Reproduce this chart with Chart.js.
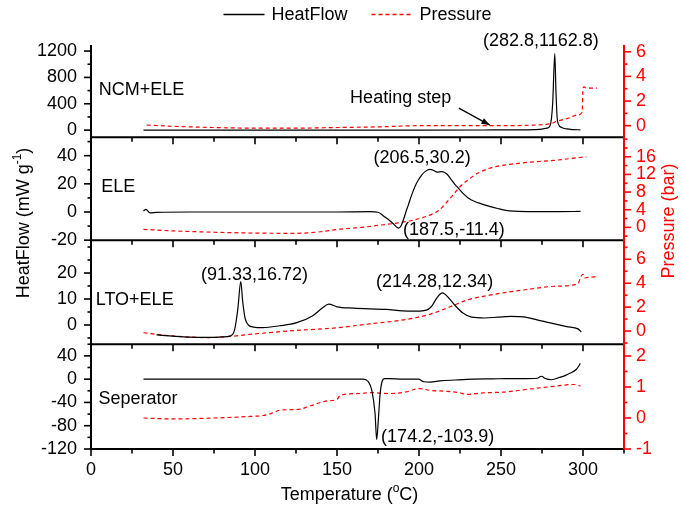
<!DOCTYPE html>
<html>
<head>
<meta charset="utf-8">
<script src="https://cdn.jsdelivr.net/npm/chart.js@4.4.0/dist/chart.umd.min.js"></script>
<style>
  html, body { margin: 0; padding: 0; background: #fff; }
</style>
</head>
<body>
<canvas id="myChart" width="681" height="510"></canvas>
<script>
// ---- values ----
const xTickLabels = [0, 50, 100, 150, 200, 250, 300];

// NCM+ELE
const ncmHeatT = [32, 60, 100, 150, 200, 240, 260, 270, 275, 278, 280, 281.5, 282.8, 283.5, 284.2, 285, 287, 290, 294, 298.4];
const ncmHeat  = [0, 0, 0, 0, 0, 2, 4, 8, 15, 30, 70, 400, 1162.8, 600, 200, 90, 40, 18, 8, 5];
const ncmPresT = [34, 50, 75, 100, 125, 150, 175, 200, 225, 250, 270, 280, 284, 288, 292, 296, 299.5, 300, 300.6, 302, 305, 308.5];
const ncmPres  = [0.05, -0.05, -0.15, -0.2, -0.2, -0.15, -0.1, 0, 0, 0, 0.05, 0.15, 0.35, 0.5, 0.65, 0.85, 1.1, 3.0, 3.15, 3.05, 3.05, 3.05];

// ELE
const eleHeatT = [32, 33.5, 36, 40, 60, 100, 150, 170, 175, 178, 181, 184.5, 187.5, 189, 190.5, 192, 193.5, 195.5, 197.5, 199.5, 201.5, 203.5, 206.5, 209, 211, 214, 217, 219, 222, 224, 227, 230, 234, 238, 243, 248, 253, 258, 270, 285, 298.5];
const eleHeat  = [0.8, 1.8, -0.7, -0.3, 0, 0, 0, 0.2, -0.2, -2.5, -5, -8.5, -11.4, -10, -5.5, 0, 5, 12, 18, 22.5, 26, 28.5, 30.2, 29.5, 28.3, 28.7, 27, 24, 19.5, 17, 13, 10, 7.5, 5.8, 4, 2.5, 1.2, 0.6, 0.3, 0.3, 0.4];
const elePresT = [32, 50, 75, 100, 125, 140, 152, 165, 175, 185, 195, 202, 208, 212, 216, 220, 225, 230, 236, 243, 250, 258, 268, 280, 290, 302];
const elePres  = [-0.45, -0.8, -1.1, -1.3, -1.35, -1.0, -0.4, 0, 0.45, 0.9, 1.5, 2.2, 3.0, 3.8, 5.3, 7.0, 9.2, 10.8, 12.3, 13.4, 14.0, 14.4, 14.8, 15.1, 15.5, 16.0];

// LTO+ELE
const ltoHeatT = [40, 50, 60, 70, 80, 85, 87.5, 89.5, 91.33, 92.5, 94, 96, 99, 105, 115, 125, 135, 141, 145, 150, 160, 170, 180, 190, 198, 205, 208, 211, 214.28, 218, 222, 227, 232, 240, 248, 256, 264, 272, 280, 290, 297, 299];
const ltoHeat  = [-3.8, -4.3, -4.7, -4.8, -4.6, -4.2, -2, 6, 16.72, 9, 2.5, 0, -0.8, -1.0, -0.3, 0.8, 3.5, 6.5, 8.0, 7.0, 6.5, 6.2, 6.0, 5.4, 5.3, 5.8, 7.5, 10.5, 12.34, 10.5, 7.5, 4.5, 3.0, 2.7, 3.0, 3.3, 3.1, 2.0, 0.8, -0.6, -1.5, -2.7];
const ltoPresT = [32, 45, 60, 70, 85, 95, 107, 125, 148, 170, 192, 207, 219, 229, 243, 263, 284, 297, 298.5, 300, 301, 304, 308];
const ltoPres  = [-0.14, -0.35, -0.5, -0.55, -0.45, -0.3, -0.15, 0.05, 0.25, 0.6, 0.97, 1.42, 2.03, 2.58, 3.0, 3.42, 3.75, 3.97, 4.5, 4.75, 4.45, 4.5, 4.55];

// Seperator
const sepHeatT = [32, 60, 100, 140, 166, 169, 171.2, 173.2, 174.2, 175.2, 176.3, 177.5, 179, 182, 190, 199.6, 203, 207, 212.8, 222, 233, 245, 253.4, 265, 272, 274.7, 277, 280.8, 285.8, 289, 292, 296, 298.4];
const sepHeat  = [0, 0, 0, 0, 0, -4, -19, -59, -103.9, -70, -25, -4, 1, 1, 0, 0, -4.5, -5, -3, -1.5, 0, 0.5, 1, 1, 1.5, 5, 1, -1, 3, 6, 10, 17, 27];
const sepPresT = [32, 50, 75, 97, 105, 110, 115, 122, 128, 132, 136, 140, 144, 150, 152, 164, 170, 182, 192, 200, 207, 217, 225, 229, 239, 253, 265, 282, 294, 298.5];
const sepPres  = [0, -0.03, 0, 0.05, 0.08, 0.15, 0.25, 0.27, 0.29, 0.36, 0.43, 0.5, 0.55, 0.6, 0.73, 0.79, 0.82, 0.79, 0.84, 0.95, 0.89, 0.86, 0.81, 0.76, 0.81, 0.84, 0.92, 1.02, 1.08, 1.03];

const leftTickLabels  = [[0, 400, 800, 1200], [-20, 0, 20, 40], [0, 10, 20], [-120, -80, -40, 0, 40]];
const rightTickLabels = [[0, 2, 4, 6], [0, 4, 8, 12, 16], [0, 2, 4, 6], [-1, 0, 1, 2]];
const panelNames = ['NCM+ELE', 'ELE', 'LTO+ELE', 'Seperator'];
const peakLabels = [['(282.8,1162.8)'], ['(206.5,30.2)', '(187.5,-11.4)'], ['(91.33,16.72)', '(214.28,12.34)'], ['(174.2,-103.9)']];

// ---- layout / style ----
const FONT = '"Liberation Sans", Arial, Helvetica, sans-serif';
const RED = '#ff0000';
Chart.defaults.font.family = FONT;
Chart.defaults.font.size = 18;
Chart.defaults.color = '#000';

const panels = [
  {heatT: ncmHeatT, heat: ncmHeat, presT: ncmPresT, pres: ncmPres, left: [-110, 1292, 200], right: [-0.95, 6.55, 1], weight: 92.3},
  {heatT: eleHeatT, heat: eleHeat, presT: elePresT, pres: elePres, left: [-20, 53, 10], right: [-2.9, 20.4, 2], weight: 102.7},
  {heatT: ltoHeatT, heat: ltoHeat, presT: ltoPresT, pres: ltoPres, left: [-7.4, 32.65, 5], right: [-1.1, 7.6, 1], weight: 104},
  {heatT: sepHeatT, heat: sepHeat, presT: sepPresT, pres: sepPres, left: [-120, 60, 20], right: [-1, 2.38, 0.5], weight: 104.7},
];

// where the panel texts sit, in each panel's temperature / heat-flow units
const notePos = [
  [{x: 4.7, y: 615, align: 'left'}, {x: 274.3, y: 1352, align: 'center'}],
  [{x: 6.3, y: 17.6, align: 'left'}, {x: 201.9, y: 38.2, align: 'center'}, {x: 190.3, y: -12.8, align: 'left'}],
  [{x: 2.9, y: 9.5, align: 'left'}, {x: 99.7, y: 19.4, align: 'center'}, {x: 209.5, y: 16.5, align: 'center'}],
  [{x: 4.5, y: -34.9, align: 'left'}, {x: 176.9, y: -100.2, align: 'left'}],
];

function pts(xs, ys) { return xs.map((x, i) => ({x: x, y: ys[i]})); }

// evenly spaced ticks inside [min, max] for a given step
function stepTicks(scale, step) {
  const out = [];
  for (let v = Math.ceil(scale.min / step - 1e-9) * step; v <= scale.max + 1e-9; v += step) {
    out.push({value: Math.round(v * 1000) / 1000});
  }
  scale.ticks = out;
}

const datasets = [];
panels.forEach((p, i) => {
  datasets.push({
    label: 'HeatFlow', data: pts(p.heatT, p.heat), yAxisID: 'yL' + i,
    borderColor: '#000', borderWidth: 1.2, pointRadius: 0, cubicInterpolationMode: 'monotone'
  });
  datasets.push({
    label: 'Pressure', data: pts(p.presT, p.pres), yAxisID: 'yR' + i,
    borderColor: RED, borderWidth: 1.2, borderDash: [4, 3], pointRadius: 0, cubicInterpolationMode: 'monotone'
  });
});

const hiddenTicks = {drawOnChartArea: false, drawTicks: true, tickLength: 7, tickColor: 'transparent'};

const scales = {
  x: {
    type: 'linear', position: 'bottom', min: 0, max: 325,
    ticks: {stepSize: 25, autoSkip: false, maxRotation: 0, padding: 3,
      callback: v => xTickLabels.includes(v) ? String(v) : ''},
    grid: hiddenTicks, border: {display: false},
    afterFit: s => { s.height = 61; }
  }
};
panels.forEach((p, i) => {
  scales['yL' + i] = {
    type: 'linear', position: 'left', stack: 'left', stackWeight: p.weight, weight: 4 - i,
    min: p.left[0], max: p.left[1],
    ticks: {autoSkip: false, padding: 7,
      callback: v => leftTickLabels[i].includes(v) ? String(v) : ''},
    afterBuildTicks: s => stepTicks(s, p.left[2]),
    grid: hiddenTicks, border: {display: false},
    afterFit: s => { s.width = 91; }
  };
  scales['yR' + i] = {
    type: 'linear', position: 'right', stack: 'right', stackWeight: p.weight, weight: i + 1,
    min: p.right[0], max: p.right[1],
    ticks: {autoSkip: false, padding: 5, color: RED,
      callback: v => rightTickLabels[i].includes(v) ? String(v) : ''},
    afterBuildTicks: s => stepTicks(s, p.right[2]),
    grid: hiddenTicks, border: {display: false},
    afterFit: s => { s.width = 57; }
  };
});

function line(ctx, x1, y1, x2, y2) {
  ctx.beginPath(); ctx.moveTo(x1, y1); ctx.lineTo(x2, y2); ctx.stroke();
}

// text with a superscript piece, parts = [[text, isSup], ...]
function richText(ctx, parts, cx, cy) {
  const big = '18px ' + FONT, small = '12px ' + FONT;
  let w = 0;
  parts.forEach(([t, sup]) => { ctx.font = sup ? small : big; w += ctx.measureText(t).width; });
  let x = cx - w / 2;
  ctx.textAlign = 'left';
  ctx.textBaseline = 'middle';
  parts.forEach(([t, sup]) => {
    ctx.font = sup ? small : big;
    ctx.fillText(t, x, sup ? cy - 6 : cy);
    x += ctx.measureText(t).width;
  });
}

const framePlugin = {
  id: 'frames',
  afterDatasetsDraw(chart) {
    const ctx = chart.ctx;
    const xs = chart.scales.x;
    ctx.save();
    ctx.lineCap = 'butt';
    panels.forEach((p, i) => {
      const yl = chart.scales['yL' + i], yr = chart.scales['yR' + i];
      // bottom line of the panel with the temperature ticks
      ctx.strokeStyle = '#000';
      ctx.lineWidth = 2;
      line(ctx, xs.left - 1, yl.bottom, xs.right, yl.bottom);
      ctx.lineWidth = 1.6;
      xs.ticks.forEach(t => {
        const px = xs.getPixelForValue(t.value);
        line(ctx, px, yl.bottom, px, yl.bottom + (t.label ? 7 : 4.5));
      });
      // left axis
      ctx.lineWidth = 2;
      line(ctx, yl.right, yl.top, yl.right, yl.bottom + 1);
      ctx.lineWidth = 1.6;
      yl.ticks.forEach(t => {
        const py = yl.getPixelForValue(t.value);
        line(ctx, yl.right, py, yl.right - (t.label ? 7 : 3.5), py);
      });
      // right axis
      ctx.strokeStyle = RED;
      ctx.lineWidth = 2;
      line(ctx, yr.left, yr.top, yr.left, yr.bottom);
      ctx.lineWidth = 1.6;
      yr.ticks.forEach(t => {
        const py = yr.getPixelForValue(t.value);
        line(ctx, yr.left, py, yr.left + (t.label ? 7 : 3.5), py);
      });
    });

    // panel names and peak labels
    ctx.fillStyle = '#000';
    ctx.font = '18px ' + FONT;
    ctx.textBaseline = 'middle';
    notePos.forEach((list, i) => {
      const yl = chart.scales['yL' + i];
      const texts = [panelNames[i]].concat(peakLabels[i]);
      list.forEach((n, k) => {
        ctx.textAlign = n.align;
        ctx.fillText(texts[k], xs.getPixelForValue(n.x), yl.getPixelForValue(n.y));
      });
    });

    // "Heating step" note with arrow in the top panel
    const y0 = chart.scales.yL0;
    ctx.textAlign = 'left';
    ctx.fillText('Heating step', xs.getPixelForValue(158), y0.getPixelForValue(486));
    const ax1 = xs.getPixelForValue(224.3), ay1 = y0.getPixelForValue(334);
    const ax2 = xs.getPixelForValue(243.2), ay2 = y0.getPixelForValue(76);
    ctx.strokeStyle = '#000';
    ctx.lineWidth = 1.2;
    line(ctx, ax1, ay1, ax2, ay2);
    const ang = Math.atan2(ay2 - ay1, ax2 - ax1);
    ctx.beginPath();
    ctx.moveTo(ax2, ay2);
    ctx.lineTo(ax2 - 9 * Math.cos(ang - 0.35), ay2 - 9 * Math.sin(ang - 0.35));
    ctx.lineTo(ax2 - 9 * Math.cos(ang + 0.35), ay2 - 9 * Math.sin(ang + 0.35));
    ctx.closePath();
    ctx.fill();

    // axis titles
    const midX = (xs.left + xs.right) / 2;
    richText(ctx, [['Temperature (', false], ['o', true], ['C)', false]], midX - 8, 495);

    ctx.save();
    ctx.translate(24, 223);
    ctx.rotate(-Math.PI / 2);
    richText(ctx, [['HeatFlow (mW g', false], ['-1', true], [')', false]], 0, 0);
    ctx.restore();

    ctx.save();
    ctx.fillStyle = RED;
    ctx.translate(669, 221);
    ctx.rotate(-Math.PI / 2);
    richText(ctx, [['Pressure (bar)', false]], 0, 0);
    ctx.restore();

    // legend
    const d0 = chart.data.datasets[0], d1 = chart.data.datasets[1];
    ctx.font = '18px ' + FONT;
    const w0 = ctx.measureText(d0.label).width, w1 = ctx.measureText(d1.label).width;
    const total = 41 + 7 + w0 + 24 + 41 + 7 + w1;
    let lx = midX - total / 2;
    const ly = 14.5;
    ctx.strokeStyle = d0.borderColor; ctx.lineWidth = 1.3; ctx.setLineDash([]);
    line(ctx, lx, ly, lx + 41, ly);
    ctx.fillStyle = '#000';
    ctx.textAlign = 'left';
    ctx.fillText(d0.label, lx + 48, ly + 1);
    lx += 48 + w0 + 24;
    ctx.strokeStyle = d1.borderColor; ctx.setLineDash(d1.borderDash);
    line(ctx, lx, ly, lx + 41, ly);
    ctx.setLineDash([]);
    ctx.fillText(d1.label, lx + 48, ly + 1);
    ctx.restore();
  }
};

new Chart(document.getElementById('myChart'), {
  type: 'line',
  data: {datasets: datasets},
  options: {
    responsive: false,
    animation: false,
    layout: {padding: {top: 45, right: 0, bottom: 0, left: 0}},
    scales: scales,
    plugins: {legend: {display: false}, tooltip: {enabled: false}}
  },
  plugins: [framePlugin]
});
</script>
</body>
</html>
